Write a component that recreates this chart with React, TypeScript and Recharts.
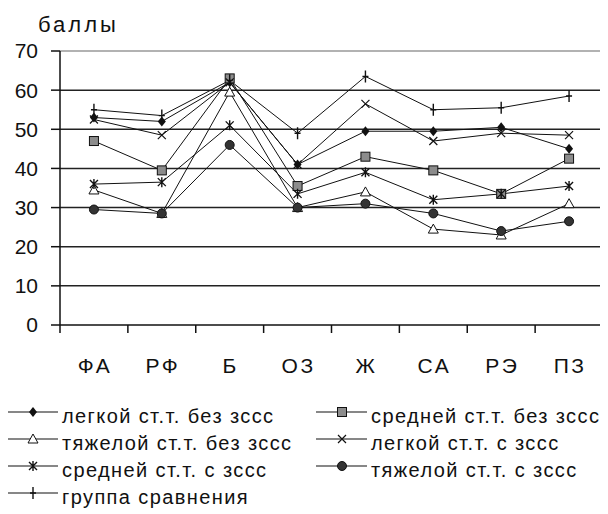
import React from 'react';
import { LineChart, Line, XAxis, YAxis, CartesianGrid, ReferenceLine } from 'recharts';

// Categories along the x axis
const categories = ['ФА', 'РФ', 'Б', 'ОЗ', 'Ж', 'СА', 'РЭ', 'ПЗ'];

// Scores (баллы) per group
const legkoyBez = [53, 52, 62, 41, 49.5, 49.5, 50.5, 45];
const sredneyBez = [47, 39.5, 63, 35.5, 43, 39.5, 33.5, 42.5];
const tyazhelBez = [34.5, 28.5, 59.5, 30, 34, 24.5, 23, 31];
const legkoyS = [52.5, 48.5, 62, 41, 56.5, 47, 49, 48.5];
const sredneyS = [36, 36.5, 51, 33.5, 39, 32, 33.5, 35.5];
const tyazhelS = [29.5, 28.5, 46, 30, 31, 28.5, 24, 26.5];
const gruppa = [55, 53.5, 62.5, 49, 63.5, 55, 55.5, 58.5];

const yTicks = [0, 10, 20, 30, 40, 50, 60, 70];

type Kind = 'diamond' | 'square' | 'triangle' | 'cross' | 'star' | 'circle' | 'plus';

const series: { key: string; name: string; values: number[]; kind: Kind }[] = [
  { key: 'legkoyBez', name: 'легкой ст.т. без зссс', values: legkoyBez, kind: 'diamond' },
  { key: 'sredneyBez', name: 'средней ст.т. без зссс', values: sredneyBez, kind: 'square' },
  { key: 'tyazhelBez', name: 'тяжелой ст.т. без зссс', values: tyazhelBez, kind: 'triangle' },
  { key: 'legkoyS', name: 'легкой ст.т. с зссс', values: legkoyS, kind: 'cross' },
  { key: 'sredneyS', name: 'средней ст.т. с зссс', values: sredneyS, kind: 'star' },
  { key: 'tyazhelS', name: 'тяжелой ст.т. с зссс', values: tyazhelS, kind: 'circle' },
  { key: 'gruppa', name: 'группа сравнения', values: gruppa, kind: 'plus' },
];

const data = categories.map((c, i) => {
  const row: Record<string, string | number> = { cat: c };
  series.forEach((s) => {
    row[s.key] = s.values[i];
  });
  return row;
});

const FONT = "'Liberation Sans', Arial, sans-serif";

// Chart layout
const W = 608;
const H = 514;
const MARGIN = { top: 51, right: 5, bottom: 149, left: 0 };
const Y_AXIS_W = 60;
const X_AXIS_H = 40;
const PLOT = {
  left: MARGIN.left + Y_AXIS_W,
  right: W - MARGIN.right,
  top: MARGIN.top,
  bottom: H - MARGIN.bottom - X_AXIS_H,
};

function Marker({ kind, cx, cy }: { kind: Kind; cx: number; cy: number }) {
  switch (kind) {
    case 'diamond':
      return <path d={`M${cx},${cy - 5}L${cx + 4},${cy}L${cx},${cy + 5}L${cx - 4},${cy}Z`} fill="#111" />;
    case 'square':
      return <rect x={cx - 4.5} y={cy - 4.5} width={9} height={9} fill="#8c8c8c" stroke="#111" strokeWidth={1} />;
    case 'triangle':
      return <path d={`M${cx},${cy - 5}L${cx + 5},${cy + 4}L${cx - 5},${cy + 4}Z`} fill="#fff" stroke="#111" strokeWidth={1} />;
    case 'cross':
      return (
        <path d={`M${cx - 4},${cy - 4}L${cx + 4},${cy + 4}M${cx + 4},${cy - 4}L${cx - 4},${cy + 4}`} stroke="#111" strokeWidth={1.2} />
      );
    case 'star':
      return (
        <path
          d={`M${cx - 4},${cy - 4}L${cx + 4},${cy + 4}M${cx + 4},${cy - 4}L${cx - 4},${cy + 4}M${cx},${cy - 5}L${cx},${cy + 5}`}
          stroke="#111"
          strokeWidth={1.4}
        />
      );
    case 'circle':
      return <circle cx={cx} cy={cy} r={4.5} fill="#333" stroke="#111" strokeWidth={1} />;
    case 'plus':
    default:
      return <path d={`M${cx},${cy - 6}L${cx},${cy + 6}M${cx - 3},${cy}L${cx + 3},${cy}`} stroke="#111" strokeWidth={1.4} />;
  }
}

function CategoryTick(props: any) {
  const { x, y, payload } = props;
  return (
    <text x={x + 1} y={y + 48} textAnchor="middle" fontFamily={FONT} fontSize={21} letterSpacing={2.5} fill="#111">
      {payload.value}
    </text>
  );
}

// Plot frame (category axis with boundary ticks, right border), y-axis title and legend
function Overlay() {
  const rows = [
    [series[0], series[1]],
    [series[2], series[3]],
    [series[4], series[5]],
    [series[6]],
  ];
  const cols = [7, 316];
  const step = (PLOT.right - PLOT.left) / categories.length;
  const edges = Array.from({ length: categories.length + 1 }, (_, i) => PLOT.left + i * step);
  return (
    <svg width={W} height={H} style={{ position: 'absolute', left: 0, top: 0, pointerEvents: 'none' }}>
      <line x1={PLOT.right} x2={PLOT.right} y1={PLOT.top} y2={PLOT.bottom} stroke="#999" strokeWidth={1.5} />
      <line x1={PLOT.left} x2={PLOT.right} y1={PLOT.bottom} y2={PLOT.bottom} stroke="#111" strokeWidth={1.5} />
      {edges.map((ex, i) => (
        <line key={i} x1={ex} x2={ex} y1={PLOT.bottom} y2={PLOT.bottom + 8} stroke="#111" strokeWidth={1.5} />
      ))}
      <text x={38} y={32} fontFamily={FONT} fontSize={22} letterSpacing={3} fill="#111">
        баллы
      </text>
      {rows.map((row, r) =>
        row.map((s, c) => {
          const x0 = cols[c];
          const y = 412 + r * 27;
          return (
            <g key={s.key}>
              <line x1={x0} x2={x0 + 51} y1={y} y2={y} stroke="#111" strokeWidth={1.2} />
              <Marker kind={s.kind} cx={x0 + 26} cy={y} />
              <text x={x0 + 55} y={y + 11} fontFamily={FONT} fontSize={20} letterSpacing={1.4} fill="#111">
                {s.name}
              </text>
            </g>
          );
        })
      )}
    </svg>
  );
}

export default function App() {
  return (
    <div style={{ position: 'relative', width: W, height: H, margin: '-8px 0 0 -8px', background: '#fff' }}>
      <LineChart width={W} height={H} data={data} margin={MARGIN}>
        <CartesianGrid vertical={false} horizontalValues={[10, 20, 30, 40, 50, 60]} stroke="#222" strokeWidth={1.5} />
        <ReferenceLine y={70} stroke="#999" strokeWidth={1.5} />
        <XAxis
          dataKey="cat"
          scale="band"
          height={X_AXIS_H}
          axisLine={false}
          tickLine={false}
          tickSize={0}
          tickMargin={0}
          interval={0}
          tick={<CategoryTick />}
        />
        <YAxis
          width={Y_AXIS_W}
          domain={[0, 70]}
          ticks={yTicks}
          interval={0}
          tickSize={9}
          tickMargin={13}
          axisLine={{ stroke: '#111', strokeWidth: 1.5 }}
          tickLine={{ stroke: '#111', strokeWidth: 1.5 }}
          tick={{ fontFamily: FONT, fontSize: 21, fill: '#111' }}
        />
        {series.map((s) => (
          <Line
            key={s.key}
            dataKey={s.key}
            name={s.name}
            stroke="#111"
            strokeWidth={1}
            isAnimationActive={false}
            activeDot={false}
            dot={(p: any) => <Marker key={`${s.key}-${p.index}`} kind={s.kind} cx={p.cx} cy={p.cy} />}
          />
        ))}
      </LineChart>
      <Overlay />
    </div>
  );
}
